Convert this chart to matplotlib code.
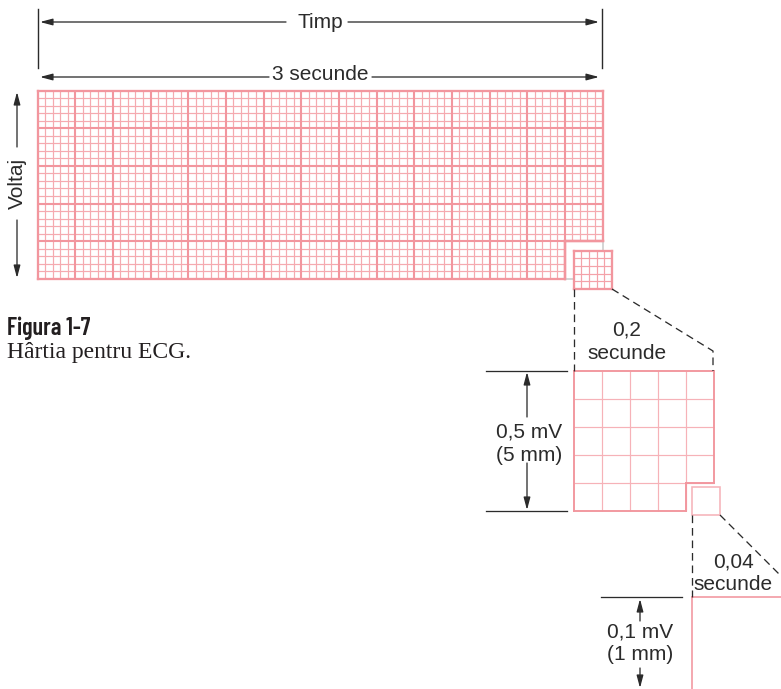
import numpy as np
import matplotlib.pyplot as plt
from matplotlib.collections import LineCollection
from matplotlib.patches import Rectangle

plt.rcParams['lines.scale_dashes'] = False

# ECG paper: 15 big boxes x 0.2 s = 3 s, 5 big boxes high, 5 small per big
big_across = 15
big_down = 5
small_per_big = 5
time_labels = ['Timp', '3 secunde']
volt_label = 'Voltaj'
zoom1_time = ['0,2', 'secunde']
zoom1_volt = ['0,5 mV', '(5 mm)']
zoom2_time = ['0,04', 'secunde']
zoom2_volt = ['0,1 mV', '(1 mm)']
fig_title = 'Figura 1-7'
fig_caption = 'Hârtia pentru ECG.'

PX = 0.72  # one pixel in points at dpi 100
thick_c = '#f2969e'
thin_c = '#f5aab0'
ink = '#2b2b2b'
cut_c = '#c8c8c8'
sans = ['Liberation Sans', 'DejaVu Sans']


def grid(ax, x0, y0, nx, ny, s, major, cut=0, thin_lw=1.0, thick_lw=1.8,
         border_lw=2.2, tc=thin_c, kc=thick_c, bc=thick_c, z=2):
    thin, thick, border = [], [], []
    xr, yb = x0 + nx * s, y0 + ny * s
    xcut, ycut = x0 + (nx - cut) * s, y0 + (ny - cut) * s
    for i in range(nx + 1):
        x = x0 + i * s
        yend = ycut if (cut and i > nx - cut) else yb
        seg = [(x, y0), (x, yend)]
        if i in (0, nx):
            border.append(seg)
        elif i % major == 0:
            thick.append(seg)
        else:
            thin.append(seg)
    for j in range(ny + 1):
        y = y0 + j * s
        xend = xcut if (cut and j > ny - cut) else xr
        seg = [(x0, y), (xend, y)]
        if j in (0, ny):
            border.append(seg)
        elif j % major == 0:
            thick.append(seg)
        else:
            thin.append(seg)
    if cut:
        border.append([(xcut, ycut), (xr, ycut)])
        border.append([(xcut, ycut), (xcut, yb)])
    ax.add_collection(LineCollection(thin, colors=tc, linewidths=thin_lw * PX, zorder=z))
    ax.add_collection(LineCollection(thick, colors=kc, linewidths=thick_lw * PX, zorder=z + 0.1))
    ax.add_collection(LineCollection(border, colors=bc, linewidths=border_lw * PX,
                                     zorder=z + 0.2, capstyle='projecting'))
    return xcut, ycut, xr, yb


def arrow(ax, tail, tip):
    ax.annotate('', xy=tip, xytext=tail,
                arrowprops=dict(arrowstyle='-|>,head_length=0.75,head_width=0.2',
                                color=ink, lw=1.3 * PX, shrinkA=0, shrinkB=0,
                                mutation_scale=10))


def dashed(ax, xs, ys):
    ax.plot(xs, ys, color=ink, lw=1.3 * PX, dashes=(5.5, 3.5), zorder=6)


fig = plt.figure(figsize=(7.81, 6.89), dpi=100)
ax = fig.add_axes([0, 0, 1, 1])
ax.set_xlim(0, 781)
ax.set_ylim(689, 0)
ax.axis('off')

# main paper strip
nx = big_across * small_per_big
ny = big_down * small_per_big
s_main = 565.0 / nx
xc, yc, xr, yb = grid(ax, 37.5, 90.5, nx, ny, s_main, small_per_big, cut=small_per_big,
                      thin_lw=1.2, thick_lw=2.1, border_lw=2.3, z=2)
ax.plot([xr, xr, xc], [yc, yb, yb], color=cut_c, lw=1.5 * PX, zorder=3)
ax.plot([xc, xc], [yc, yb], color=thick_c, lw=2.3 * PX, zorder=3.5)
ax.plot([xc, xr], [yc, yc], color=thick_c, lw=2.3 * PX, zorder=3.5)

# popped-out big box
ax.add_patch(Rectangle((573.5, 250.5), 38.5, 38.5, facecolor='white', edgecolor='none', zorder=4))
grid(ax, 573.5, 250.5, small_per_big, small_per_big, 38.5 / small_per_big, small_per_big,
     thin_lw=1.2, thick_lw=2.0, border_lw=2.3, tc='#f4a2a9', z=4.5)

# enlargement of one big box (5 mm)
s5 = 28.0
grid(ax, 574, 371, small_per_big, small_per_big, s5, small_per_big, cut=1,
     thin_lw=1.2, thick_lw=1.7, border_lw=1.9, tc='#f6b2b8', z=2)
ax.add_patch(Rectangle((692, 487), s5, s5, facecolor='white', edgecolor='#f6b4ba',
                       lw=1.6 * PX, zorder=4))

# enlargement of one small box (1 mm), mostly outside the picture
ax.plot([692, 800], [597, 597], color=thick_c, lw=1.6 * PX, zorder=3)
ax.plot([692, 692], [597, 700], color=thick_c, lw=1.6 * PX, zorder=3)

# dashed zoom guides
dashed(ax, [573.5, 573.5], [289, 371])
dashed(ax, [612, 713, 713], [289, 351, 371])
dashed(ax, [692, 692], [515, 597])
dashed(ax, [720, 800], [515, 595])

# time dimension lines at the top
ax.plot([38, 38], [9, 68], color=ink, lw=1.4 * PX)
ax.plot([602, 602], [9, 68], color=ink, lw=1.4 * PX)
arrow(ax, (286, 22), (40, 22))
arrow(ax, (348, 22), (599, 22))
ax.text(320, 28, time_labels[0], ha='center', va='baseline', fontsize=15,
        family=sans, color=ink)
arrow(ax, (269, 77), (40, 77))
arrow(ax, (372, 77), (599, 77))
ax.text(320, 80, time_labels[1], ha='center', va='baseline', fontsize=15,
        family=sans, color=ink)

# voltage arrow on the left
arrow(ax, (17, 147), (17, 92))
arrow(ax, (17, 220), (17, 278))
ax.text(17.5, 183, volt_label, ha='center', va='center', rotation=90,
        fontsize=15, family=sans, color=ink)

# 0,2 s / 0,5 mV labels
ax.text(627, 335, zoom1_time[0], ha='center', va='baseline', fontsize=15, family=sans, color=ink)
ax.text(627, 359, zoom1_time[1], ha='center', va='baseline', fontsize=15, family=sans, color=ink)
ax.plot([486, 567], [371, 371], color=ink, lw=1.3 * PX)
ax.plot([486, 567], [511, 511], color=ink, lw=1.3 * PX)
arrow(ax, (527, 417), (527, 372))
arrow(ax, (527, 463), (527, 510))
ax.text(529, 438, zoom1_volt[0], ha='center', va='baseline', fontsize=15, family=sans, color=ink)
ax.text(529, 461, zoom1_volt[1], ha='center', va='baseline', fontsize=15, family=sans, color=ink)

# 0,04 s / 0,1 mV labels
ax.text(733, 567, zoom2_time[0], ha='center', va='baseline', fontsize=15, family=sans, color=ink)
ax.text(733, 590, zoom2_time[1], ha='center', va='baseline', fontsize=15, family=sans, color=ink)
ax.plot([601, 682], [597, 597], color=ink, lw=1.3 * PX)
arrow(ax, (640, 621), (640, 599))
arrow(ax, (640, 668), (640, 688))
ax.text(640, 638, zoom2_volt[0], ha='center', va='baseline', fontsize=15, family=sans, color=ink)
ax.text(640, 660, zoom2_volt[1], ha='center', va='baseline', fontsize=15, family=sans, color=ink)

# caption
ax.text(7, 335, fig_title, ha='left', va='baseline', fontsize=17.5, fontweight='semibold',
        family=['Barlow Condensed', 'DejaVu Sans'], color='#231f20')
ax.text(7, 358, fig_caption, ha='left', va='baseline', fontsize=17,
        family=['Liberation Serif', 'DejaVu Serif'], color='#231f20')

fig.savefig('out.png', dpi=100)
